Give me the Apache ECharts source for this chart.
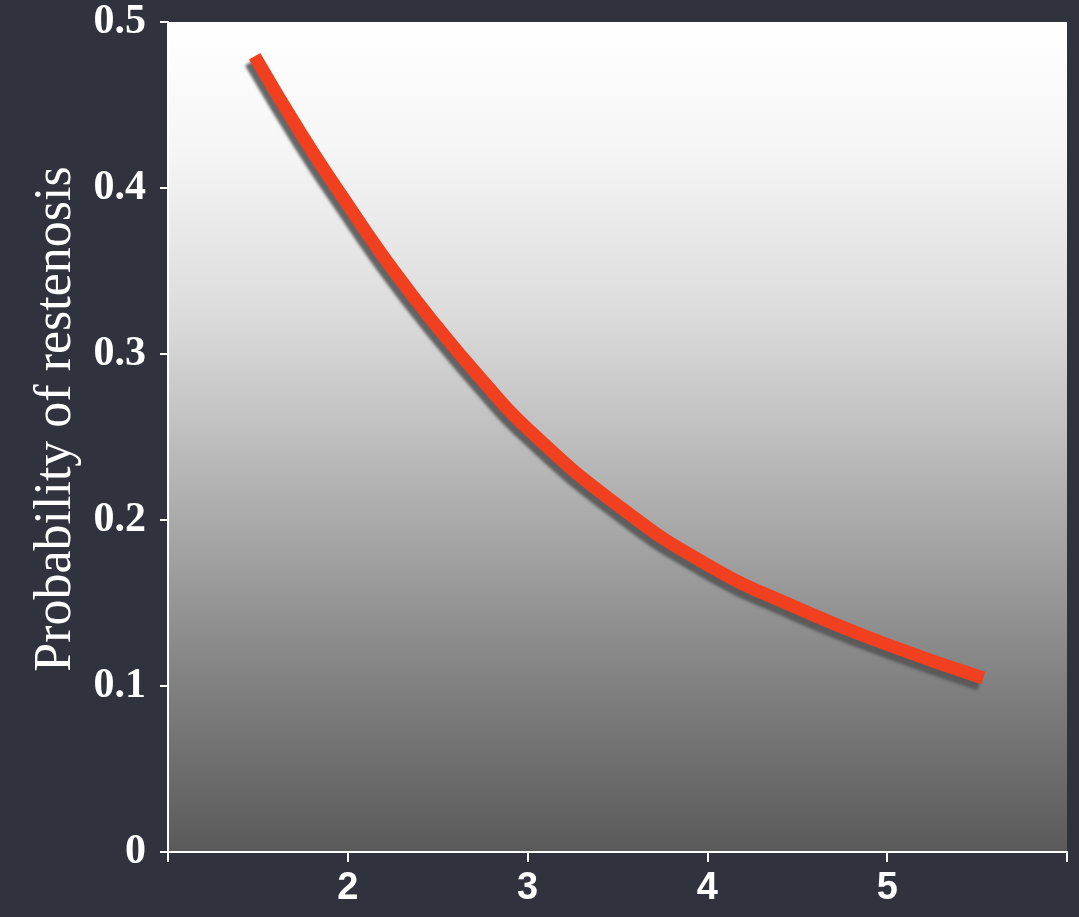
<!DOCTYPE html>
<html>
<head>
<meta charset="utf-8">
<script src="https://cdn.jsdelivr.net/npm/echarts@6/dist/echarts.min.js"></script>
<style>
html,body{margin:0;padding:0;background:#30333d;}
#chart{width:1079px;height:917px;}
</style>
</head>
<body>
<div id="chart"></div>
<script>
// Data
var xValues = [1.5, 1.75, 2, 2.25, 2.5, 2.75, 3, 3.5, 4, 4.5, 5, 5.5];
var probValues = [0.476, 0.431, 0.390, 0.351, 0.316, 0.284, 0.255, 0.209, 0.173, 0.147, 0.125, 0.106];
var xTickLabels = ['2', '3', '4', '5'];
var yTickLabels = ['0', '0.1', '0.2', '0.3', '0.4', '0.5'];
var yAxisTitle = 'Probability of restenosis';

var seriesData = xValues.map(function (x, i) { return [x, probValues[i]]; });

var chart = echarts.init(document.getElementById('chart'));
chart.setOption({
  backgroundColor: '#30333d',
  animation: false,
  grid: {
    left: 168, right: 12, top: 22, bottom: 65,
    show: true,
    borderWidth: 0,
    backgroundColor: {
      type: 'linear', x: 0, y: 0, x2: 0, y2: 1,
      colorStops: [
        {offset: 0, color: '#ffffff'},
        {offset: 0.15, color: '#f6f6f6'},
        {offset: 0.35, color: '#dcdcdc'},
        {offset: 0.6, color: '#aaaaaa'},
        {offset: 0.8, color: '#808080'},
        {offset: 1, color: '#5a5a5a'}
      ]
    }
  },
  xAxis: {
    type: 'value',
    min: 1, max: 6, interval: 1,
    splitLine: {show: false},
    axisLine: {show: true, lineStyle: {color: '#ffffff', width: 2}},
    axisTick: {show: true, length: 10, lineStyle: {color: '#ffffff', width: 2}},
    axisLabel: {
      color: '#ffffff',
      fontFamily: 'Liberation Sans Narrow, Liberation Sans, Arial, sans-serif',
      fontWeight: 'bold',
      fontSize: 38,
      margin: 18,
      formatter: function (v) {
        var s = String(v);
        return xTickLabels.indexOf(s) >= 0 ? s : '';
      }
    }
  },
  yAxis: {
    type: 'value',
    min: 0, max: 0.5, interval: 0.1,
    name: yAxisTitle,
    nameLocation: 'middle',
    nameGap: 86,
    nameTextStyle: {
      color: '#ffffff',
      fontFamily: 'Liberation Serif, Times New Roman, serif',
      fontSize: 52,
      padding: [0, 0, 0, 36]
    },
    splitLine: {show: false},
    axisLine: {show: true, lineStyle: {color: '#ffffff', width: 2}},
    axisTick: {show: true, length: 8, lineStyle: {color: '#ffffff', width: 2}},
    axisLabel: {
      color: '#ffffff',
      fontFamily: 'Liberation Serif, Times New Roman, serif',
      fontWeight: 'bold',
      fontSize: 42,
      margin: 22,
      formatter: function (v) {
        return yTickLabels[Math.round(v * 10)];
      }
    }
  },
  series: [{
    type: 'line',
    data: seriesData,
    smooth: true,
    showSymbol: false,
    symbol: 'none',
    lineStyle: {
      color: '#f0401f',
      width: 13,
      cap: 'square',
      shadowColor: 'rgba(85,85,85,0.9)',
      shadowBlur: 3,
      shadowOffsetX: -4,
      shadowOffsetY: 6
    }
  }]
});
</script>
</body>
</html>
